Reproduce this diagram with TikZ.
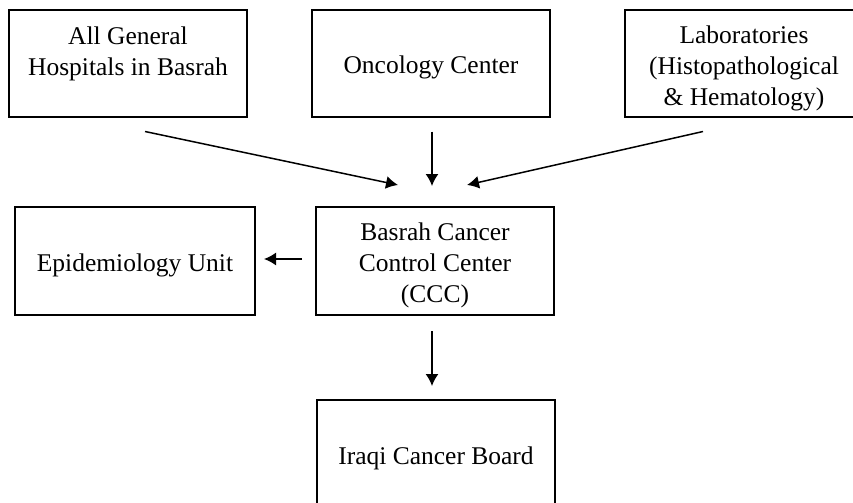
\documentclass[tikz,border=0pt]{standalone}
\usepackage{fontspec}
\setmainfont{Liberation Serif}
\usetikzlibrary{calc,arrows.meta}
\tikzset{
  unitbox/.style={draw,line width=1pt,minimum width=119pt,minimum height=53.5pt,
    inner sep=0pt,align=center,font=\fontsize{12.75}{15.5}\selectfont,
    execute at begin node={\rule{0pt}{13pt}}},
  flow/.style={-{Latex[length=6pt,width=6.5pt]},line width=0.75pt}
}
\begin{document}
\begin{tikzpicture}[x=0.5pt,y=-0.5pt]
\clip (0,0) rectangle (853,503);
\node[unitbox] (hosp) at (128,63) {All General\\Hospitals in Basrah\\[-8pt]\strut};
\node[unitbox] (onc) at (431,63) {Oncology Center};
\node[unitbox,text height=45pt] (labs) at (744,63) {Laboratories\\(Histopathological\\\& Hematology)};
\node[unitbox,minimum height=54pt,text height=44pt] (ccc) at (435,261) {Basrah Cancer\\Control Center\\ (CCC)};
\node[unitbox,minimum width=120pt,minimum height=54pt] (epi) at (135,261) {Epidemiology Unit};
\node[unitbox,minimum height=54pt] (icb) at (436,454) {Iraqi Cancer Board};
% arrows into the centre
\draw[flow] ($(hosp.south)+(17,14)$) -- ($(ccc.north)+(-37,-21)$);
\draw[flow] ($(onc.south)+(1,14)$) -- ($(ccc.north)+(-3,-20)$);
\draw[flow] ($(labs.south)+(-41,14)$) -- ($(ccc.north)+(32,-21)$);
% arrows out of the centre
\draw[flow] ($(ccc.west)+(-13,-2)$) -- ($(epi.east)+(8,-2)$);
\draw[flow] ($(ccc.south)+(-3,15)$) -- ($(icb.north)+(-4,-13)$);
\end{tikzpicture}
\end{document}
